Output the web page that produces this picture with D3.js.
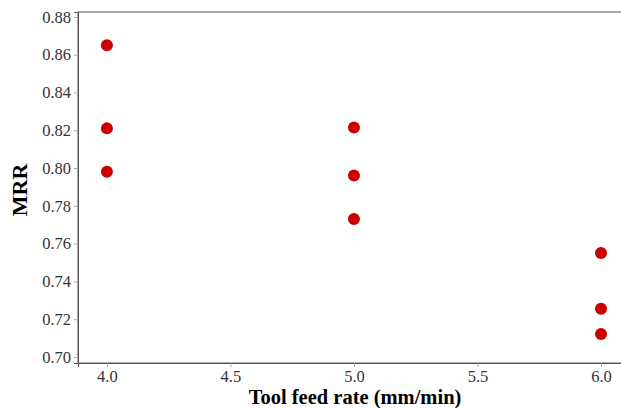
<!DOCTYPE html>
<html>
<head>
<meta charset="utf-8">
<script src="https://cdn.jsdelivr.net/npm/d3@7"></script>
<style>
  body { margin: 0; background: #fff; }
  .axis-label { font-family: "Liberation Serif", "Times New Roman", serif; font-weight: bold; fill: #000; text-anchor: middle; }
</style>
</head>
<body>
<svg id="chart" width="621" height="408"></svg>
<script>
// DATA
const feedRate = [4.0, 4.0, 4.0, 5.0, 5.0, 5.0, 6.0, 6.0, 6.0];
const mrr = [0.865, 0.821, 0.798, 0.8215, 0.796, 0.773, 0.755, 0.7255, 0.7122];
const xTicks = [4.0, 4.5, 5.0, 5.5, 6.0];
const yTicks = [0.70, 0.72, 0.74, 0.76, 0.78, 0.80, 0.82, 0.84, 0.86, 0.88];

// SETUP
const margin = { top: 12, right: -2, bottom: 45, left: 78 },
      width = 621 - margin.left - margin.right,
      height = 408 - margin.top - margin.bottom;

const svg = d3.select("#chart")
    .append("g")
    .attr("transform", `translate(${margin.left},${margin.top})`);

// 4.0 sits at x=107, 6.0 at x=601
const x = d3.scaleLinear()
    .domain([3.883, 6.089])
    .range([0, width]);

const y = d3.scaleLinear()
    .domain([0.6968, 0.8826])
    .range([height, 0]);

// frame (right edge falls outside the window)
svg.append("rect")
    .attr("width", width)
    .attr("height", height)
    .attr("fill", "none")
    .attr("stroke", "#555")
    .attr("stroke-width", 1);

// axes
const xAxis = svg.append("g")
    .attr("transform", `translate(0,${height})`)
    .call(d3.axisBottom(x).tickValues(xTicks).tickFormat(d3.format(".1f")).tickSize(4).tickPadding(3));

const yAxis = svg.append("g")
    .call(d3.axisLeft(y).tickValues(yTicks).tickFormat(d3.format(".2f")).tickSize(4).tickPadding(3));

[xAxis, yAxis].forEach(g => {
    g.attr("font-size", null).attr("font-family", null);
    g.select(".domain").attr("stroke", "#555");
    g.selectAll(".tick line").attr("stroke", "#aaa");
    g.selectAll(".tick text")
        .style("font-family", "'Liberation Serif', 'Times New Roman', serif")
        .style("font-size", "16.5px")
        .attr("fill", "#333");
});

// points
svg.selectAll("circle")
    .data(feedRate.map((f, i) => ({ f, m: mrr[i] })))
    .enter()
    .append("circle")
    .attr("cx", d => x(d.f))
    .attr("cy", d => y(d.m))
    .attr("r", 6)
    .attr("fill", "#cc0000");

// labels
svg.append("text")
    .attr("class", "axis-label")
    .attr("font-size", 20.5)
    .attr("x", 355 - margin.left)
    .attr("y", height + 41)
    .text("Tool feed rate (mm/min)");

svg.append("text")
    .attr("class", "axis-label")
    .attr("font-size", 22)
    .attr("transform", "rotate(-90)")
    .attr("x", -(190 - margin.top))
    .attr("y", -margin.left + 27)
    .text("MRR");
</script>
</body>
</html>
